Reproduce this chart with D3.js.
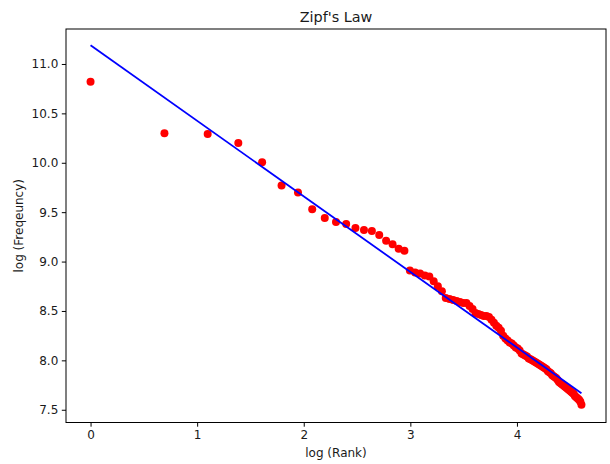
<!DOCTYPE html>
<html>
<head>
<meta charset="utf-8">
<script src="https://cdn.jsdelivr.net/npm/d3@7"></script>
<style>
  html, body { margin: 0; padding: 0; background: #fff; }
  svg { display: block; font-family: "DejaVu Sans", sans-serif; }
</style>
</head>
<body>
<svg id="chart" width="610" height="464"></svg>
<script>
// ---- data ----
const ranks = d3.range(1, 101);
const logFreq = [
  10.82, 10.30, 10.29, 10.20, 10.005, 9.77, 9.70, 9.53, 9.44, 9.40,
  9.38, 9.34, 9.32, 9.31, 9.27, 9.21, 9.175, 9.13, 9.11, 8.91,
  8.89, 8.88, 8.86, 8.85, 8.80, 8.75, 8.70, 8.63, 8.62, 8.61,
  8.60, 8.59, 8.58, 8.58, 8.55, 8.52, 8.48, 8.47, 8.46, 8.45,
  8.45, 8.44, 8.41, 8.38, 8.35, 8.33, 8.30, 8.25, 8.22, 8.20,
  8.18, 8.17, 8.15, 8.13, 8.12, 8.10, 8.07, 8.06, 8.05, 8.04,
  8.02, 8.01, 8.00, 7.99, 7.98, 7.97, 7.96, 7.95, 7.94, 7.93,
  7.92, 7.91, 7.89, 7.88, 7.87, 7.85, 7.84, 7.83, 7.82, 7.80,
  7.78, 7.77, 7.76, 7.75, 7.74, 7.73, 7.72, 7.71, 7.70, 7.69,
  7.68, 7.67, 7.66, 7.64, 7.63, 7.62, 7.61, 7.60, 7.58, 7.55
];
const fitX = [0, 4.605];
const fitY = [11.19, 7.667];
const xTicks = [0, 1, 2, 3, 4];
const yTicks = [7.5, 8.0, 8.5, 9.0, 9.5, 10.0, 10.5, 11.0];
const titleText = "Zipf's Law";
const xLabelText = "log (Rank)";
const yLabelText = "log (Freqeuncy)";

// ---- layout ----
const svg = d3.select("#chart");
const L = 66, R = 606, T = 29, B = 422.5;

const points = ranks.map((r, i) => ({ x: Math.log(r), y: logFreq[i] }));

const x = d3.scaleLinear().domain([-0.2303, 4.8354]).range([L, R]);
const y = d3.scaleLinear().domain([7.371, 11.354]).range([B, T]);

// points
svg.append("g").selectAll("circle").data(points).join("circle")
  .attr("cx", d => x(d.x)).attr("cy", d => y(d.y))
  .attr("r", 4).attr("fill", "#ff0000");

// fit line
const fit = fitX.map((v, i) => [v, fitY[i]]);
svg.append("path").datum(fit)
  .attr("d", d3.line().x(d => x(d[0])).y(d => y(d[1])))
  .attr("fill", "none").attr("stroke", "#0000ff").attr("stroke-width", 1.8);

// axes
const xAxis = svg.append("g").attr("transform", `translate(0,${B})`)
  .call(d3.axisBottom(x).tickValues(xTicks).tickFormat(d3.format("d")).tickSizeInner(4.2).tickSizeOuter(0).tickPadding(3.5));
const yAxis = svg.append("g").attr("transform", `translate(${L},0)`)
  .call(d3.axisLeft(y).tickValues(yTicks).tickFormat(d3.format(".1f")).tickSizeInner(4.2).tickSizeOuter(0).tickPadding(3.5));
[xAxis, yAxis].forEach(g => {
  g.select(".domain").remove();
  g.selectAll("line").attr("stroke", "#000").attr("stroke-width", 1);
  g.selectAll("text").attr("font-size", 12).attr("fill", "#1a1a1a")
    .attr("font-family", "DejaVu Sans, sans-serif");
});

// frame
svg.append("rect").attr("x", L).attr("y", T).attr("width", R - L).attr("height", B - T)
  .attr("fill", "none").attr("stroke", "#000").attr("stroke-width", 1);

// title & labels
svg.append("text").attr("x", (L + R) / 2).attr("y", 22).attr("text-anchor", "middle")
  .attr("font-size", 14.4).attr("fill", "#1a1a1a").text(titleText);
svg.append("text").attr("x", (L + R) / 2).attr("y", 457).attr("text-anchor", "middle")
  .attr("font-size", 12).attr("fill", "#1a1a1a").text(xLabelText);
svg.append("text").attr("transform", `translate(22.5,${(T + B) / 2}) rotate(-90)`)
  .attr("text-anchor", "middle").attr("font-size", 12).attr("fill", "#1a1a1a").text(yLabelText);
</script>
</body>
</html>
